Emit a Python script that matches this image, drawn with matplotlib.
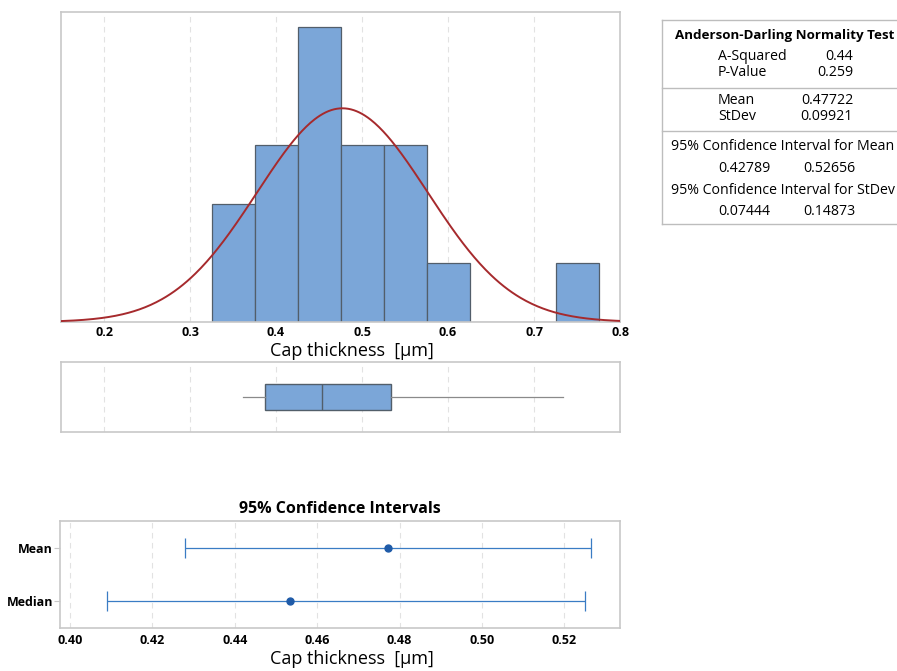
import numpy as np
import matplotlib
matplotlib.use("Agg")
import matplotlib.pyplot as plt
from matplotlib.lines import Line2D

plt.rcParams['font.family'] = ['Open Sans', 'DejaVu Sans']

# histogram data (bin edges and counts)
bin_edges = [0.325, 0.375, 0.425, 0.475, 0.525, 0.575, 0.625, 0.675, 0.725, 0.775]
counts = [2, 3, 5, 3, 3, 1, 0, 0, 1]
n_obs = 18
mean_val = 0.47722
sd_val = 0.09921

# boxplot summary
box_stats = dict(whislo=0.3615, q1=0.387, med=0.4535, q3=0.534, whishi=0.734)

# confidence intervals
ci_labels = ["Median", "Mean"]
ci_centers = [0.4535, 0.47722]
ci_low = [0.4091, 0.42789]
ci_high = [0.5251, 0.52656]

# summary table
ad_rows = [("A-Squared", "0.44"), ("P-Value", "0.259")]
stat_rows = [("Mean", "0.47722"), ("StDev", "0.09921")]
ci_mean = ("0.42789", "0.52656")
ci_sd = ("0.07444", "0.14873")

W, H = 897, 671
fig = plt.figure(figsize=(W / 100, H / 100), dpi=100)

def axes_px(left, top, right, bottom):
    return fig.add_axes([left / W, 1 - bottom / H, (right - left) / W, (bottom - top) / H])

bar_color = '#7BA6D8'
edge_color = '#525E6A'
spine_color = '#C8C8C8'
grid_kw = dict(color='#E2E2E2', linestyle=(0, (5, 4)), linewidth=0.8)

def style_axes(ax):
    for s in ax.spines.values():
        s.set_color(spine_color)
        s.set_linewidth(1.2)

# ---- histogram ----
ax1 = axes_px(61, 12, 620, 322)
widths = np.diff(bin_edges)
lefts = np.array(bin_edges[:-1])
ax1.bar(lefts, counts, width=widths, align='edge', color=bar_color,
        edgecolor=edge_color, linewidth=0.9, zorder=2)
xs = np.linspace(0.15, 0.8, 400)
binw = bin_edges[1] - bin_edges[0]
pdf = n_obs * binw / (sd_val * np.sqrt(2 * np.pi)) * np.exp(-0.5 * ((xs - mean_val) / sd_val) ** 2)
ax1.plot(xs, pdf, color='#A62A2D', linewidth=1.4, zorder=3)
ax1.set_xlim(0.15, 0.8)
ax1.set_ylim(0, 5.25)
ax1.set_yticks([])
ax1.set_xticks([0.2, 0.3, 0.4, 0.5, 0.6, 0.7, 0.8])
ax1.set_xticklabels(['0.2', '0.3', '0.4', '0.5', '0.6', '0.7', '0.8'], fontweight='bold', fontsize=9)
ax1.tick_params(axis='x', length=0, pad=3)
for t in [0.2, 0.3, 0.4, 0.5, 0.6, 0.7]:
    ax1.axvline(t, zorder=0, **grid_kw)
ax1.set_xlabel("Cap thickness  [µm]", fontsize=13)
ax1.xaxis.set_label_coords((352 - 61) / (620 - 61), -(342 - 322) / (322 - 12))
style_axes(ax1)

# ---- boxplot ----
ax2 = axes_px(61, 362, 620, 432)
ax2.bxp([box_stats], vert=False, positions=[0], widths=0.72, showfliers=False,
        patch_artist=True,
        boxprops=dict(facecolor=bar_color, edgecolor=edge_color, linewidth=1.0),
        medianprops=dict(color=edge_color, linewidth=1.0),
        whiskerprops=dict(color='#8A8A8A', linewidth=0.9),
        capprops=dict(linewidth=0))
ax2.set_xlim(0.15, 0.8)
ax2.set_ylim(-1, 1)
ax2.set_xticks([])
ax2.set_yticks([])
for t in [0.2, 0.3, 0.4, 0.5, 0.6, 0.7]:
    ax2.axvline(t, zorder=0, **grid_kw)
style_axes(ax2)

# ---- confidence intervals ----
ax3 = axes_px(60, 521, 620, 628)
ypos = np.arange(len(ci_labels))
ci_color = '#3A7CC4'
for y, c, lo, hi in zip(ypos, ci_centers, ci_low, ci_high):
    ax3.errorbar(c, y, xerr=[[c - lo], [hi - c]], fmt='o', color='#1F5BA8',
                 ecolor=ci_color, elinewidth=0.9, capsize=7, capthick=0.9,
                 markersize=5, zorder=3)
ax3.set_xlim(0.3976, 0.5335)
ax3.set_ylim(-0.5, 1.5)
ax3.set_yticks(ypos)
ax3.set_yticklabels(ci_labels, fontweight='bold', fontsize=9)
ax3.set_xticks([0.40, 0.42, 0.44, 0.46, 0.48, 0.50, 0.52])
ax3.set_xticklabels(['0.40', '0.42', '0.44', '0.46', '0.48', '0.50', '0.52'],
                    fontweight='bold', fontsize=9)
ax3.tick_params(axis='x', length=0, pad=4)
ax3.tick_params(axis='y', length=4, color=spine_color, pad=1)
for t in [0.40, 0.42, 0.44, 0.46, 0.48, 0.50, 0.52]:
    ax3.axvline(t, zorder=0, **grid_kw)
ax3.set_xlabel("Cap thickness  [µm]", fontsize=13)
ax3.xaxis.set_label_coords((352 - 60) / (620 - 60), -(650 - 628) / (628 - 521))
ax3.set_title("95% Confidence Intervals", fontweight='bold', fontsize=11.5, pad=6)
style_axes(ax3)

# ---- summary table ----
def fx(px):
    return px / W

def fy(py):
    return 1 - py / H

tkw = dict(fontsize=10.2, va='center')
fig.text(fx(785), fy(36), "Anderson-Darling Normality Test", ha='center', fontweight='bold',
         fontsize=9.6, va='center')
for i, (lab, val) in enumerate(ad_rows):
    y = 57 + i * 16
    fig.text(fx(718), fy(y), lab, ha='left', **tkw)
    fig.text(fx(853), fy(y), val, ha='right', **tkw)
for i, (lab, val) in enumerate(stat_rows):
    y = 100 + i * 17
    fig.text(fx(718), fy(y), lab, ha='left', **tkw)
    fig.text(fx(853), fy(y), val, ha='right', **tkw)
fig.text(fx(671), fy(147), "95% Confidence Interval for Mean", ha='left', **tkw)
fig.text(fx(718), fy(169), ci_mean[0], ha='left', **tkw)
fig.text(fx(803), fy(169), ci_mean[1], ha='left', **tkw)
fig.text(fx(671), fy(190), "95% Confidence Interval for StDev", ha='left', **tkw)
fig.text(fx(718), fy(211), ci_sd[0], ha='left', **tkw)
fig.text(fx(803), fy(211), ci_sd[1], ha='left', **tkw)

line_kw = dict(color='#BDBDBD', linewidth=1.0, transform=fig.transFigure)
for yy in [20, 88, 131, 224]:
    fig.add_artist(Line2D([fx(662), fx(897)], [fy(yy), fy(yy)], **line_kw))
fig.add_artist(Line2D([fx(662), fx(662)], [fy(20), fy(224)], **line_kw))

fig.savefig("out.png", dpi=100)
